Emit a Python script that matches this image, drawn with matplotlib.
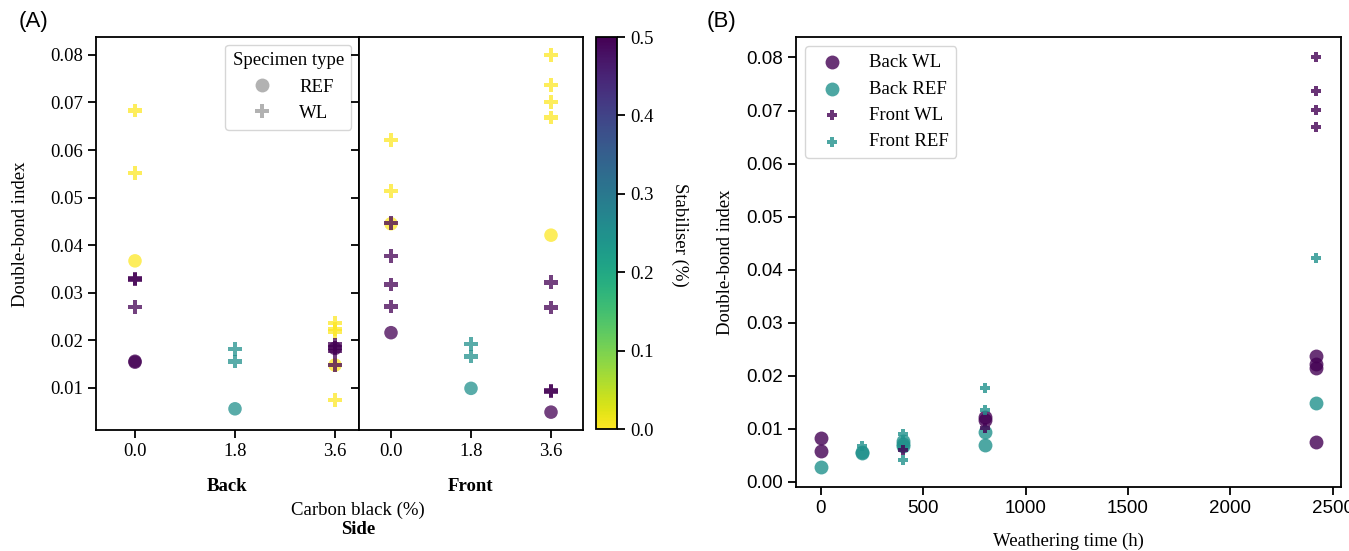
import numpy as np
import matplotlib
matplotlib.use('Agg')
import matplotlib.pyplot as plt
from matplotlib.lines import Line2D
from matplotlib import colors, cm

# ---------------- data: panel A ----------------
cb_levels = [0.0, 1.8, 3.6]
cb_labels = ["0.0", "1.8", "3.6"]

back_cb    = [0.0, 0.0, 0.0, 0.0, 0.0, 0.0, 0.0, 0.0,
              1.8, 1.8, 1.8,
              3.6, 3.6, 3.6, 3.6, 3.6, 3.6, 3.6, 3.6, 3.6, 3.6]
back_type  = ['WL', 'WL', 'REF', 'WL', 'WL', 'WL', 'REF', 'REF',
              'WL', 'WL', 'REF',
              'WL', 'WL', 'WL', 'WL', 'REF', 'WL', 'WL', 'WL', 'WL', 'REF']
back_stab  = [0.0, 0.0, 0.0, 0.5, 0.5, 0.5, 0.5, 0.5,
              0.25, 0.25, 0.25,
              0.0, 0.0, 0.0, 0.0, 0.0, 0.5, 0.5, 0.5, 0.5, 0.5]
back_dbi   = [0.0683, 0.0552, 0.0367, 0.0330, 0.0328, 0.0270, 0.0156, 0.0154,
              0.0182, 0.0155, 0.0056,
              0.0236, 0.0224, 0.0218, 0.0075, 0.0148, 0.0191, 0.0185, 0.0178, 0.0148, 0.0183]

front_cb   = [0.0, 0.0, 0.0, 0.0, 0.0, 0.0, 0.0, 0.0,
              1.8, 1.8, 1.8,
              3.6, 3.6, 3.6, 3.6, 3.6, 3.6, 3.6, 3.6, 3.6, 3.6]
front_type = ['WL', 'WL', 'REF', 'WL', 'WL', 'WL', 'WL', 'REF',
              'WL', 'WL', 'REF',
              'WL', 'WL', 'WL', 'WL', 'REF', 'WL', 'WL', 'WL', 'WL', 'REF']
front_stab = [0.0, 0.0, 0.0, 0.5, 0.5, 0.5, 0.5, 0.5,
              0.25, 0.25, 0.25,
              0.0, 0.0, 0.0, 0.0, 0.0, 0.5, 0.5, 0.5, 0.5, 0.5]
front_dbi  = [0.0621, 0.0514, 0.0445, 0.0447, 0.0377, 0.0317, 0.0271, 0.0216,
              0.0192, 0.0166, 0.0099,
              0.0800, 0.0737, 0.0701, 0.0668, 0.0421, 0.0322, 0.0269, 0.0094, 0.0092, 0.0049]

# ---------------- data: panel B ----------------
back_wl_t   = [0, 0, 800, 800, 2420, 2420, 2420, 2420]
back_wl_y   = [0.0082, 0.0058, 0.0123, 0.0117, 0.0238, 0.0222, 0.0214, 0.0075]
back_ref_t  = [0, 200, 200, 400, 400, 400, 800, 800, 2420]
back_ref_y  = [0.0029, 0.0057, 0.0054, 0.0078, 0.0072, 0.0068, 0.0095, 0.0070, 0.0148]
front_wl_t  = [400, 800, 2420, 2420, 2420, 2420]
front_wl_y  = [0.0060, 0.0101, 0.0800, 0.0737, 0.0701, 0.0668]
front_ref_t = [200, 400, 400, 800, 800, 2420]
front_ref_y = [0.0067, 0.0090, 0.0042, 0.0177, 0.0136, 0.0422]

# ---------------- figure ----------------
W, H = 1349, 551
fig = plt.figure(figsize=(W / 100, H / 100), dpi=100)
plt.rcParams['font.family'] = ['Liberation Serif', 'DejaVu Serif']
plt.rcParams['font.size'] = 13.5
plt.rcParams['axes.linewidth'] = 1.3
SANS = ['Liberation Sans', 'DejaVu Sans']

def ax_px(l, t, r, b, **kw):
    return fig.add_axes([l / W, 1 - b / H, (r - l) / W, (b - t) / H], **kw)

def style(ax):
    ax.tick_params(direction='out', length=6, width=1.3, labelsize=13.5)

cmap = plt.get_cmap('viridis_r')
norm = colors.Normalize(vmin=0.0, vmax=0.5)
ALPHA = 0.75

axL = ax_px(96, 37, 359, 430)
axR = ax_px(359, 37, 583, 430, sharey=axL)

def draw_side(ax, cb, typ, stab, dbi):
    cb = np.array(cb); typ = np.array(typ); stab = np.array(stab); dbi = np.array(dbi)
    xpos = np.array([cb_levels.index(v) for v in cb])
    for t, m in [('REF', 'o'), ('WL', 'P')]:
        sel = typ == t
        ax.scatter(xpos[sel], dbi[sel], c=stab[sel], cmap=cmap, norm=norm,
                   marker=m, s=95, alpha=ALPHA, linewidths=0, zorder=3)
    ax.set_xticks(range(len(cb_levels)))
    ax.set_xticklabels(cb_labels)
    style(ax)

draw_side(axL, back_cb, back_type, back_stab, back_dbi)
draw_side(axR, front_cb, front_type, front_stab, front_dbi)
axL.set_xlim(-0.39, 2.24)
axR.set_xlim(-0.4, 2.4)
yt = [0.01, 0.02, 0.03, 0.04, 0.05, 0.06, 0.07, 0.08]
axL.set_yticks(yt)
axL.set_yticklabels([f"{v:.2f}" for v in yt])
axR.tick_params(labelleft=False)
axL.set_xlabel('Back', fontweight='bold', labelpad=13)
axR.set_xlabel('Front', fontweight='bold', labelpad=13)

leg_handles = [Line2D([], [], marker='o', ls='', color='grey', alpha=0.6, markersize=10, markeredgewidth=0),
               Line2D([], [], marker='P', ls='', color='grey', alpha=0.6, markersize=10, markeredgewidth=0)]
axL.legend(leg_handles, ['REF', 'WL'], title='Specimen type', loc='upper right',
           alignment='center', fontsize=13.5, title_fontsize=13.5, borderaxespad=0.4,
           handletextpad=1.0)

fig.text(21 / W, 1 - 234 / H, 'Double-bond index', rotation=90, ha='center', va='center')
fig.text(358 / W, 1 - 510 / H, 'Carbon black (%)', ha='center', va='center')
fig.text(358 / W, 1 - 529 / H, 'Side', ha='center', va='center', fontweight='bold')

# colorbar
cax = ax_px(596, 37, 617, 429)
cbar = fig.colorbar(cm.ScalarMappable(norm=norm, cmap=cmap), cax=cax)
cbar.set_ticks([0.0, 0.1, 0.2, 0.3, 0.4, 0.5])
cbar.set_ticklabels(['0.0', '0.1', '0.2', '0.3', '0.4', '0.5'])
cbar.outline.set_linewidth(1.3)
cax.tick_params(direction='out', length=6, width=1.3, labelsize=13.5)
fig.text(680 / W, 1 - 235 / H, 'Stabiliser (%)', rotation=270, ha='center', va='center')

# ---------------- panel B ----------------
axB = ax_px(796, 37, 1341, 487)
purple = cm.viridis(0.0)
teal = cm.viridis(0.5)
axB.scatter(back_wl_t, back_wl_y, color=purple, marker='o', s=100, alpha=0.8, linewidths=0, label='Back WL', zorder=3)
axB.scatter(back_ref_t, back_ref_y, color=teal, marker='o', s=100, alpha=0.8, linewidths=0, label='Back REF', zorder=3)
axB.scatter(front_wl_t, front_wl_y, color=purple, marker='P', s=60, alpha=0.8, linewidths=0, label='Front WL', zorder=3)
axB.scatter(front_ref_t, front_ref_y, color=teal, marker='P', s=60, alpha=0.8, linewidths=0, label='Front REF', zorder=3)
style(axB)
axB.set_xticks([0, 500, 1000, 1500, 2000, 2500])
axB.set_yticks([0.0, 0.01, 0.02, 0.03, 0.04, 0.05, 0.06, 0.07, 0.08])
axB.yaxis.set_major_formatter(matplotlib.ticker.FormatStrFormatter('%.2f'))
for lab in axB.get_xticklabels() + axB.get_yticklabels():
    lab.set_fontfamily(SANS)
axB.legend(loc='upper left', fontsize=13.5, handletextpad=1.0, borderaxespad=0.5)
fig.text(725 / W, 1 - 262 / H, 'Double-bond index', rotation=90, ha='center', va='center')
fig.text(1068 / W, 1 - 541 / H, 'Weathering time (h)', ha='center', va='center')

fig.text(33 / W, 1 - 22 / H, '(A)', ha='center', va='center', fontsize=16, family=SANS)
fig.text(722 / W, 1 - 22 / H, '(B)', ha='center', va='center', fontsize=16, family=SANS)

fig.savefig('out.png', dpi=100)
